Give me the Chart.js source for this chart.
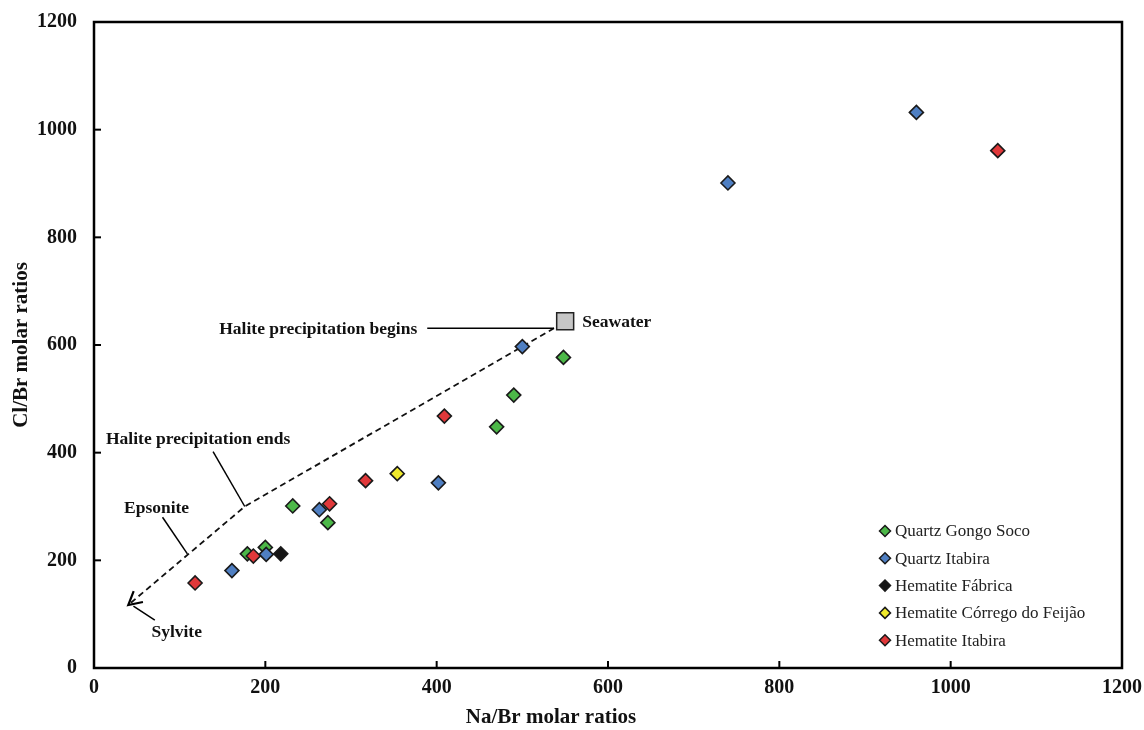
<!DOCTYPE html>
<html>
<head>
<meta charset="utf-8">
<script src="https://cdn.jsdelivr.net/npm/chart.js@4.4.1/dist/chart.umd.min.js"></script>
<style>
  html, body { margin: 0; padding: 0; background: #fff; }
  #wrap { width: 1144px; height: 730px; }
</style>
</head>
<body>
<div id="wrap"><canvas id="chart"></canvas></div>
<script>
// Datos
const axisTicks = [0, 200, 400, 600, 800, 1000, 1200];

const gongoSocoX = [548, 490, 470, 232, 273, 179, 200];
const gongoSocoY = [577, 507, 448, 301, 270, 212, 224];

const quartzItabiraX = [960, 740, 500, 402, 263, 201, 161];
const quartzItabiraY = [1032, 901, 597, 344, 294, 211, 181];

const fabricaX = [218];
const fabricaY = [212];

const feijaoX = [354];
const feijaoY = [361];

const hemItabiraX = [1055, 409, 317, 275, 186, 118];
const hemItabiraY = [961, 468, 348, 305, 208, 158];

const seawaterX = [550];
const seawaterY = [644];

// Trayectoria de evaporación (línea discontinua)
const pathX = [537, 176, 40];
const pathY = [631, 300, 117];

const seriesNames = ['Quartz Gongo Soco', 'Quartz Itabira', 'Hematite Fábrica', 'Hematite Córrego do Feijão', 'Hematite Itabira'];
const seriesColors = ['#4cb848', '#4f7fc2', '#151515', '#f0ea2c', '#e0383a'];

const serif = "'Liberation Serif', 'Times New Roman', serif";

const toPoints = (xs, ys) => xs.map((x, i) => ({ x: x, y: ys[i] }));

function diamondSet(name, xs, ys, color, order) {
  return {
    label: name,
    data: toPoints(xs, ys),
    pointStyle: 'rectRot',
    pointRadius: 7,
    pointBackgroundColor: color,
    pointBorderColor: '#1a1a1a',
    pointBorderWidth: 1.6,
    showLine: false,
    order: order
  };
}

// Plugin: marco, marcas hacia dentro, anotaciones, flecha, título X y leyenda
const decorPlugin = {
  id: 'decor',
  afterDraw(chart) {
    const ctx = chart.ctx;
    const area = chart.chartArea;
    const xs = chart.scales.x;
    const ys = chart.scales.y;
    const px = v => xs.getPixelForValue(v);
    const py = v => ys.getPixelForValue(v);

    ctx.save();
    ctx.strokeStyle = '#000';

    // marcas de eje
    ctx.lineWidth = 2;
    axisTicks.forEach(t => {
      ctx.beginPath();
      ctx.moveTo(px(t), area.bottom);
      ctx.lineTo(px(t), area.bottom - 7);
      ctx.stroke();
      ctx.beginPath();
      ctx.moveTo(area.left, py(t));
      ctx.lineTo(area.left + 7, py(t));
      ctx.stroke();
    });

    // marco
    ctx.lineWidth = 2.5;
    ctx.strokeRect(area.left, area.top, area.right - area.left, area.bottom - area.top);

    // líneas guía de las anotaciones
    const leaders = [
      [[389, 631], [537, 631]],
      [[139, 402], [176, 300]],
      [[80, 280], [109, 212]],
      [[71, 89], [46, 115]]
    ];
    ctx.lineWidth = 1.5;
    leaders.forEach(l => {
      ctx.beginPath();
      ctx.moveTo(px(l[0][0]), py(l[0][1]));
      ctx.lineTo(px(l[1][0]), py(l[1][1]));
      ctx.stroke();
    });

    // punta de flecha (Sylvite)
    const n = pathX.length;
    const ex = px(pathX[n - 1]), ey = py(pathY[n - 1]);
    const ang = Math.atan2(ey - py(pathY[n - 2]), ex - px(pathX[n - 2]));
    ctx.lineWidth = 2.2;
    ctx.beginPath();
    ctx.moveTo(ex - 15 * Math.cos(ang - 0.5), ey - 15 * Math.sin(ang - 0.5));
    ctx.lineTo(ex, ey);
    ctx.lineTo(ex - 15 * Math.cos(ang + 0.5), ey - 15 * Math.sin(ang + 0.5));
    ctx.stroke();

    // textos
    ctx.fillStyle = '#111';
    ctx.font = 'bold 17.5px ' + serif;
    ctx.textBaseline = 'middle';
    ctx.textAlign = 'right';
    ctx.fillText('Halite precipitation begins', px(389) - 10, py(628));
    ctx.textAlign = 'left';
    ctx.fillText('Seawater', px(570), py(641));
    ctx.fillText('Halite precipitation ends', px(14), py(425));
    ctx.fillText('Epsonite', px(35), py(297));
    ctx.fillText('Sylvite', px(67), py(66));

    // título del eje X
    ctx.textAlign = 'center';
    ctx.font = 'bold 21px ' + serif;
    ctx.fillText('Na/Br molar ratios', 551, 718);

    // leyenda
    const lx = 885, ly0 = 531, step = 27.3;
    ctx.textAlign = 'left';
    ctx.font = '17px ' + serif;
    seriesNames.forEach((name, i) => {
      const y = ly0 + i * step;
      ctx.beginPath();
      ctx.moveTo(lx, y - 5.5);
      ctx.lineTo(lx + 5.5, y);
      ctx.lineTo(lx, y + 5.5);
      ctx.lineTo(lx - 5.5, y);
      ctx.closePath();
      ctx.fillStyle = seriesColors[i];
      ctx.fill();
      ctx.lineWidth = 1.5;
      ctx.strokeStyle = '#1a1a1a';
      ctx.stroke();
      ctx.fillStyle = '#222';
      ctx.fillText(name, lx + 10, y + 1);
    });

    ctx.restore();
  }
};

new Chart(document.getElementById('chart'), {
  type: 'scatter',
  data: {
    datasets: [
      diamondSet(seriesNames[4], hemItabiraX, hemItabiraY, seriesColors[4], 0),
      diamondSet(seriesNames[3], feijaoX, feijaoY, seriesColors[3], 1),
      diamondSet(seriesNames[2], fabricaX, fabricaY, seriesColors[2], 2),
      diamondSet(seriesNames[1], quartzItabiraX, quartzItabiraY, seriesColors[1], 3),
      diamondSet(seriesNames[0], gongoSocoX, gongoSocoY, seriesColors[0], 4),
      {
        label: 'Seawater',
        data: toPoints(seawaterX, seawaterY),
        pointStyle: 'rect',
        pointRadius: 12,
        pointBackgroundColor: '#c6c6c6',
        pointBorderColor: '#222',
        pointBorderWidth: 1.5,
        showLine: false,
        order: 5
      },
      {
        label: 'path',
        data: toPoints(pathX, pathY),
        showLine: true,
        borderColor: '#111',
        borderWidth: 1.8,
        borderDash: [6, 4],
        pointRadius: 0,
        fill: false,
        order: 6
      }
    ]
  },
  options: {
    responsive: true,
    maintainAspectRatio: false,
    animation: false,
    layout: { padding: { top: 22, right: 22, left: 0, bottom: 0 } },
    plugins: {
      legend: { display: false },
      tooltip: { enabled: false }
    },
    scales: {
      x: {
        type: 'linear',
        min: 0,
        max: 1200,
        afterFit: s => { s.height = 62; s.paddingLeft = 0; s.paddingRight = 0; },
        grid: { display: false },
        border: { display: false },
        ticks: {
          stepSize: 200,
          padding: 0,
          color: '#111',
          callback: v => String(v),
          font: { family: serif, size: 20, weight: 'bold' }
        }
      },
      y: {
        type: 'linear',
        min: 0,
        max: 1200,
        afterFit: s => { s.width = 94; s.paddingTop = 0; s.paddingBottom = 0; },
        grid: { display: false },
        border: { display: false },
        ticks: {
          stepSize: 200,
          padding: 9,
          color: '#111',
          callback: v => String(v),
          font: { family: serif, size: 20, weight: 'bold' }
        },
        title: {
          display: true,
          text: 'Cl/Br molar ratios',
          color: '#111',
          padding: { top: 9, bottom: 0 },
          font: { family: serif, size: 21, weight: 'bold' }
        }
      }
    }
  },
  plugins: [decorPlugin]
});
</script>
</body>
</html>
